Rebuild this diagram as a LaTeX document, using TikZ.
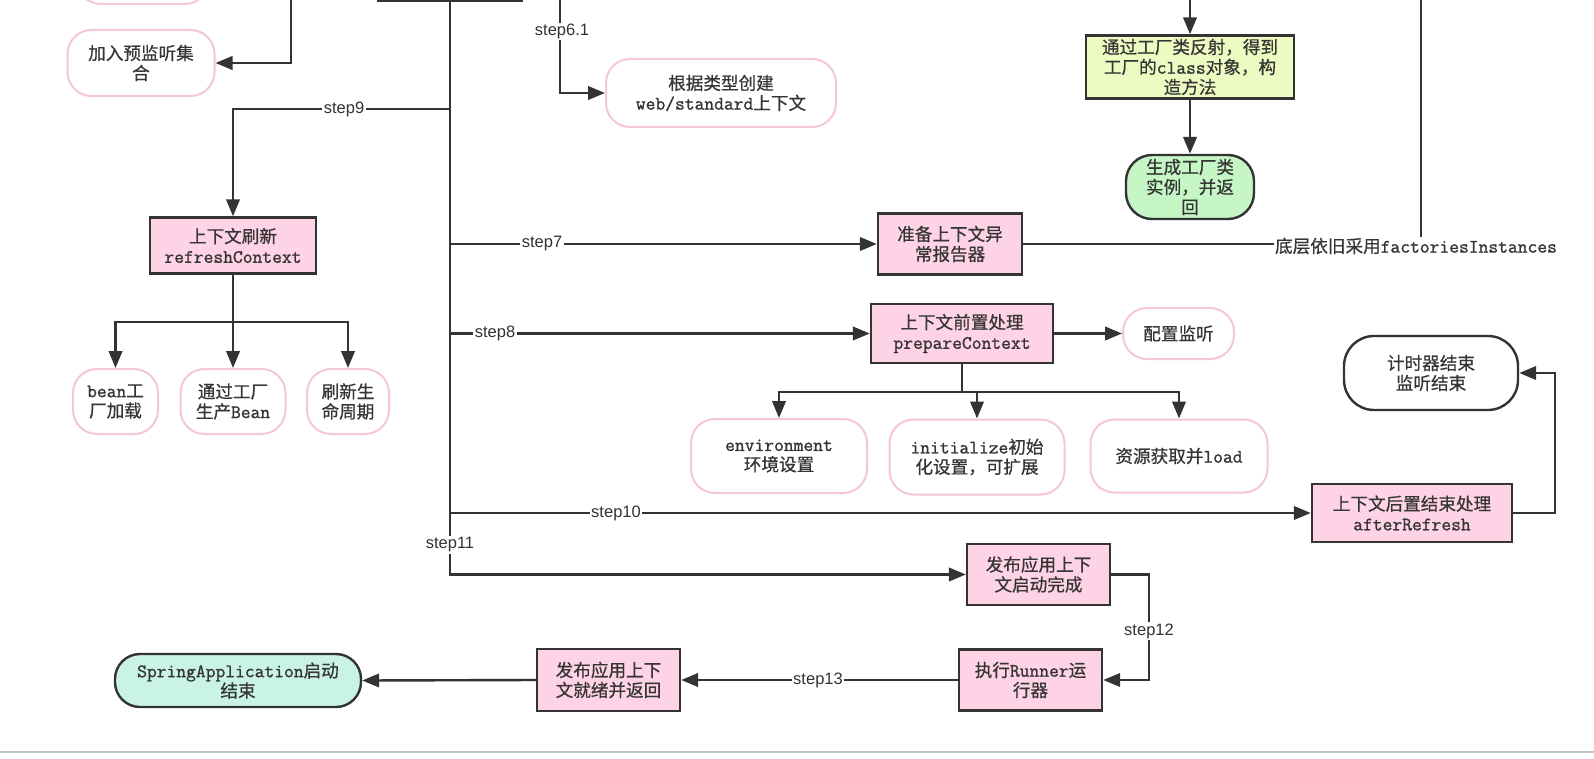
\documentclass[tikz,border=0pt]{standalone}
\usepackage{fontspec}
\usetikzlibrary{arrows.meta}
\newfontfamily\cjk[FakeBold=0.6]{Noto Sans CJK SC}
\newfontfamily\mono[Scale=1.08, FakeBold=1.2]{Latin Modern Mono}
\newfontfamily\labfont{Liberation Sans}
\newcommand\lat[1]{{\mono #1}}
\definecolor{ink}{HTML}{333333}
\definecolor{txt}{HTML}{353535}
\definecolor{pinkfill}{HTML}{FFD3E6}
\definecolor{pinkline}{HTML}{F7C6D6}
\definecolor{yellowgreen}{HTML}{EDFAC2}
\definecolor{lightgreen}{HTML}{C6F5C6}
\definecolor{lightcyan}{HTML}{C9F4E5}
\definecolor{pagegray}{HTML}{C4C4C4}
\tikzset{
  line/.style={draw=ink, line width=2.4pt},
  arr/.style={line, -{Triangle[length=17pt,width=13.5pt]}},
  boxtext/.style={align=center, inner sep=0pt, text=txt, font={\cjk\fontsize{17.6}{20}\selectfont}},
  rbox/.style={boxtext, draw=ink, line width=2.4pt, fill=pinkfill},
  obox/.style={boxtext, draw=pinkline, line width=2pt, fill=white, rounded corners=24pt},
  steplabel/.style={fill=white, inner sep=1.5pt, text=ink, font={\labfont\fontsize{16.5}{17}\selectfont}},
}
\begin{document}
\begin{tikzpicture}[x=1pt,y=-1pt]
\useasboundingbox (0,0) rectangle (1594,759);
\fill[white] (0,0) rectangle (1594,759);

% partially visible nodes at the top edge
\node[obox, minimum width=132pt, minimum height=48pt] (tlbox) at (143,-20) {};
\node[rbox, minimum width=144pt, minimum height=50pt] (topbox) at (450,-24) {};
\coordinate (c291) at (291,-10);
\coordinate (s61top) at (560,-10);
\coordinate (gtop) at (1190,-10);
\coordinate (vtop) at (1421,-10);

% left column
\node[obox, minimum width=147pt, minimum height=66pt] (jr) at (141,63) {加入预监听集\\合};
\node[obox, minimum width=230pt, minimum height=68pt] (ctx) at (721,93) {根据类型创建\\\lat{web/standard}上下文};
\node[rbox, minimum width=166pt, minimum height=56pt] (refresh) at (233,245.5) {上下文刷新\\\lat{refreshContext}};
\node[obox, minimum width=85pt, minimum height=65pt] (bean) at (115.5,401.5) {\lat{bean}工\\厂加载};
\node[obox, minimum width=105pt, minimum height=65pt] (prod) at (233,401.5) {通过工厂\\生产\lat{Bean}};
\node[obox, minimum width=82pt, minimum height=65pt] (life) at (348,401.5) {刷新生\\命周期};

% middle
\node[rbox, minimum width=144pt, minimum height=61pt] (exc) at (950,244) {准备上下文异\\常报告器};
\node[rbox, minimum width=182pt, minimum height=59pt] (pc) at (962,333.5) {上下文前置处理\\\lat{prepareContext}};
\node[obox, minimum width=111pt, minimum height=51pt] (conf) at (1178.5,333.5) {配置监听};
\node[obox, minimum width=176pt, minimum height=74pt] (env) at (779,456) {\lat{environment}\\环境设置};
\node[obox, minimum width=175pt, minimum height=75pt] (init) at (977,457) {\lat{initialize}初始\\化设置，可扩展};
\node[obox, minimum width=177pt, minimum height=73pt] (res) at (1179,456) {资源获取并\lat{load}};

% right
\node[boxtext, draw=ink, line width=2.4pt, fill=yellowgreen, minimum width=208pt, minimum height=63pt] (refl) at (1190,67) {通过工厂类反射，得到\\工厂的\lat{class}对象，构\\造方法};
\node[boxtext, draw=ink, line width=2.4pt, fill=lightgreen, rounded corners=26pt, minimum width=128pt, minimum height=64pt] (gen) at (1190,187) {生成工厂类\\实例，并返\\回};
\node[rbox, minimum width=200pt, minimum height=58pt] (after) at (1412,513) {上下文后置结束处理\\\lat{afterRefresh}};
\node[boxtext, draw=ink, line width=2.4pt, fill=white, rounded corners=30pt, minimum width=174pt, minimum height=74pt] (timer) at (1431,373) {计时器结束\\监听结束};

% bottom
\node[rbox, minimum width=143pt, minimum height=61pt] (pub) at (1038.5,574.5) {发布应用上下\\文启动完成};
\node[rbox, minimum width=143pt, minimum height=61pt] (run) at (1030.5,680) {执行\lat{Runner}运\\行器};
\node[rbox, minimum width=143pt, minimum height=62pt] (ready) at (608.5,680) {发布应用上下\\文就绪并返回};
\node[boxtext, draw=ink, line width=2.4pt, fill=lightcyan, rounded corners=25pt, minimum width=246pt, minimum height=53pt] (spring) at (238,680.5) {\lat{SpringApplication}启动\\结束};

% trunk branch points
\coordinate (b9) at (450,109);
\coordinate (b7) at (450,244);
\coordinate (b8) at (450,333.5);
\coordinate (b10) at (450,513);
\coordinate (rj) at (233,322);
\coordinate (pj) at (962,392);
\coordinate (ac) at (1555,513);
\coordinate (c12) at (1149,680);

% connectors
\draw[arr] (c291) |- (jr.east);
\draw[arr] (topbox.south) |- (pub.west);
\draw[arr] (s61top) |- (ctx.west);
\draw[arr] (b9) -| (refresh.north);
\draw[line] (refresh.south) -- (rj);
\draw[arr] (rj) -| (bean.north);
\draw[arr] (rj) -- (prod.north);
\draw[arr] (rj) -| (life.north);
\draw[arr] (b7) -- (exc.west);
\draw[line] (exc.east) -| (vtop);
\draw[arr] (gtop) -- (refl.north);
\draw[arr] (refl.south) -- (gen.north);
\draw[arr] (b8) -- (pc.west);
\draw[arr] (pc.east) -- (conf.west);
\draw[line] (pc.south) -- (pj);
\draw[arr] (pj) -| (env.north);
\draw[arr] (pj) -| (init.north);
\draw[arr] (pj) -| (res.north);
\draw[arr] (b10) -- (after.west);
\draw[arr] (after.east) -- (ac) |- (timer.east);
\draw[arr] (pub.east) -| (c12) -- (run.east);
\draw[arr] (run.west) -- (ready.east);
\draw[arr] (ready.west) -- (spring.east);

% labels
\node[steplabel] (l61) at (562,31.5) {step6.1};
\node[steplabel] (l9) at (344,109) {step9};
\node[steplabel] (l7) at (542,244) {step7};
\node[steplabel] (l8) at (495,333.5) {step8};
\node[steplabel] (l10) at (616,513) {step10};
\node[steplabel] (l11) at (450,545) {step11};
\node[steplabel] (l12) at (1149,631) {step12};
\node[steplabel] (l13) at (818,680) {step13};
\node[boxtext, fill=white, inner sep=1pt] (lf) at (1416,246) {底层依旧采用\lat{factoriesInstances}};

% screenshot page edge
\draw[pagegray, line width=2pt] (0,752) -- (1594,752);
\end{tikzpicture}
\end{document}
